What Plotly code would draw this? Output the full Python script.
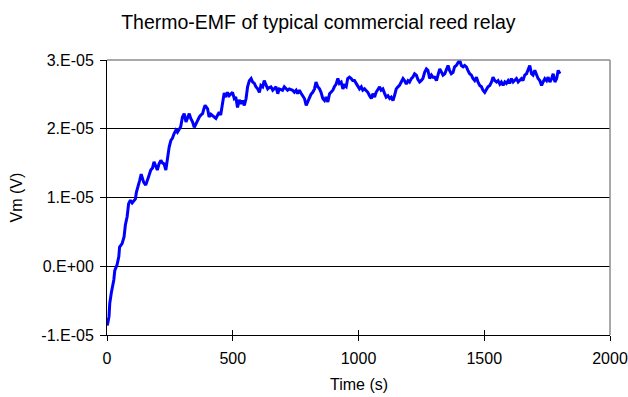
import numpy as np
import plotly.graph_objects as go

# Measurement time (s) and thermo-EMF readings (in units of 1e-5 V)
time_s = [0, 3, 8, 11, 17, 22, 27, 31, 40, 47, 50, 60, 68, 73, 80, 86, 93, 100, 104, 113,
          117, 126, 130, 136, 141, 146, 154, 160, 166, 174, 181, 187, 193, 200, 207, 214, 221,
          227, 234, 240, 247, 254, 260, 267, 274, 280, 287, 293, 300, 307, 314, 320, 327, 333,
          340, 347, 353, 360, 367, 373, 380, 386, 390, 400, 406, 413, 420, 426, 433, 440, 446,
          452, 459, 466, 473, 479, 486, 492, 499, 506, 512, 519, 526, 533, 539, 546, 553, 559,
          566, 573, 579, 586, 592, 599, 606, 612, 619, 625, 632, 639, 645, 652, 659, 665, 672,
          679, 685, 692, 698, 705, 712, 718, 725, 732, 738, 745, 752, 758, 765, 771, 778, 785,
          792, 798, 805, 811, 818, 825, 831, 838, 845, 851, 858, 865, 871, 878, 885, 891, 898,
          904, 911, 918, 924, 931, 938, 944, 951, 957, 964, 971, 977, 984, 991, 997, 1004, 1011,
          1017, 1024, 1031, 1037, 1044, 1051, 1057, 1064, 1070, 1077, 1084, 1090, 1097, 1104,
          1110, 1117, 1124, 1130, 1137, 1143, 1150, 1157, 1163, 1170, 1177, 1183, 1190, 1197,
          1203, 1210, 1216, 1223, 1230, 1236, 1243, 1249, 1256, 1263, 1270, 1276, 1283, 1290,
          1296, 1303, 1310, 1316, 1323, 1329, 1336, 1343, 1349, 1356, 1362, 1369, 1376, 1382,
          1389, 1396, 1402, 1409, 1416, 1422, 1429, 1435, 1442, 1449, 1455, 1462, 1469, 1475,
          1482, 1489, 1495, 1502, 1509, 1515, 1522, 1529, 1535, 1542, 1549, 1555, 1562, 1568,
          1575, 1582, 1588, 1595, 1601, 1608, 1615, 1621, 1628, 1635, 1641, 1648, 1654, 1661,
          1668, 1675, 1681, 1688, 1694, 1701, 1708, 1714, 1721, 1728, 1734, 1741, 1748, 1754,
          1761, 1768, 1774, 1781, 1788, 1794, 1801]

vm_x1e5 = [-0.86, -0.83, -0.73, -0.54, -0.39, -0.30, -0.20, -0.06, 0.02, 0.14, 0.28, 0.33, 0.43,
           0.60, 0.72, 0.91, 0.96, 0.92, 0.94, 0.98, 1.08, 1.18, 1.25, 1.34, 1.27, 1.22, 1.18,
           1.26, 1.31, 1.40, 1.43, 1.52, 1.47, 1.40, 1.49, 1.54, 1.50, 1.49, 1.40, 1.57, 1.73,
           1.83, 1.86, 1.93, 1.98, 1.95, 2.00, 2.03, 2.17, 2.22, 2.10, 2.17, 2.22, 2.15, 2.10,
           2.02, 2.07, 2.12, 2.17, 2.20, 2.22, 2.30, 2.34, 2.29, 2.17, 2.21, 2.19, 2.17, 2.15,
           2.20, 2.24, 2.20, 2.39, 2.52, 2.46, 2.53, 2.48, 2.50, 2.53, 2.44, 2.46, 2.31, 2.42,
           2.36, 2.41, 2.34, 2.44, 2.61, 2.70, 2.73, 2.68, 2.66, 2.61, 2.58, 2.53, 2.63, 2.61,
           2.70, 2.63, 2.58, 2.60, 2.61, 2.56, 2.58, 2.61, 2.51, 2.58, 2.57, 2.56, 2.61, 2.59,
           2.56, 2.58, 2.57, 2.56, 2.53, 2.56, 2.51, 2.56, 2.52, 2.48, 2.44, 2.34, 2.39, 2.44,
           2.50, 2.53, 2.58, 2.68, 2.61, 2.58, 2.53, 2.44, 2.41, 2.46, 2.39, 2.51, 2.54, 2.56,
           2.61, 2.65, 2.73, 2.66, 2.68, 2.58, 2.63, 2.61, 2.73, 2.75, 2.73, 2.70, 2.70, 2.65,
           2.61, 2.58, 2.61, 2.56, 2.58, 2.56, 2.53, 2.48, 2.44, 2.51, 2.46, 2.53, 2.58, 2.61,
           2.56, 2.58, 2.51, 2.46, 2.48, 2.44, 2.46, 2.41, 2.48, 2.58, 2.61, 2.63, 2.68, 2.73,
           2.70, 2.65, 2.70, 2.68, 2.73, 2.75, 2.80, 2.78, 2.72, 2.68, 2.70, 2.73, 2.82, 2.87,
           2.85, 2.73, 2.78, 2.75, 2.75, 2.70, 2.78, 2.87, 2.83, 2.78, 2.80, 2.87, 2.92, 2.85,
           2.80, 2.82, 2.90, 2.92, 2.97, 3.00, 2.92, 2.90, 2.92, 2.90, 2.85, 2.80, 2.78, 2.73,
           2.70, 2.75, 2.68, 2.63, 2.61, 2.56, 2.53, 2.58, 2.61, 2.63, 2.68, 2.75, 2.70, 2.68,
           2.70, 2.65, 2.68, 2.63, 2.68, 2.66, 2.70, 2.66, 2.73, 2.68, 2.70, 2.73, 2.68, 2.70,
           2.73, 2.70, 2.78, 2.80, 2.87, 2.92, 2.80, 2.78, 2.85, 2.78, 2.73, 2.70, 2.63, 2.68,
           2.73, 2.70, 2.75, 2.68, 2.73, 2.80, 2.68, 2.73, 2.85, 2.80]

y_tickvals = [-1e-5, 0.0, 1e-5, 2e-5, 3e-5]
y_ticktext = ["-1.E-05", "0.E+00", "1.E-05", "2.E-05", "3.E-05"]
x_tickvals = [0, 500, 1000, 1500, 2000]

vm = np.array(vm_x1e5) * 1e-5

FONT = "Liberation Sans, Arial, sans-serif"

fig = go.Figure()
fig.add_trace(go.Scatter(
    x=time_s, y=vm, mode="lines",
    line=dict(color="#0000FF", width=3),
    showlegend=False,
))
# invisible companion trace so the overlaid x axis (inner tick marks) is drawn
fig.add_trace(go.Scatter(x=[0], y=[0], xaxis="x2", mode="markers",
                         marker=dict(opacity=0), showlegend=False, hoverinfo="skip"))

fig.update_layout(
    width=628, height=397,
    margin=dict(l=107, r=18, t=60, b=62, autoexpand=False),
    paper_bgcolor="white", plot_bgcolor="white",
    font=dict(family=FONT, size=16, color="black"),
    title=dict(text="Thermo-EMF of typical commercial reed relay",
               x=0.507, xanchor="center", y=0.945, yanchor="middle",
               font=dict(family=FONT, size=19.5, color="black")),
    xaxis=dict(
        range=[0, 2000], tickvals=x_tickvals, ticks="outside", ticklen=5,
        tickcolor="black", showline=True, linecolor="black", linewidth=1,
        showgrid=False, zeroline=False, automargin=False,
        ticklabelstandoff=4, tickfont=dict(size=16),
    ),
    xaxis2=dict(
        range=[0, 2000], tickvals=x_tickvals, ticks="inside", ticklen=5,
        tickcolor="black", overlaying="x", anchor="y", side="bottom",
        showticklabels=False, showgrid=False, zeroline=False, showline=False,
        automargin=False,
    ),
    yaxis=dict(
        range=[-1e-5, 3e-5], tickvals=y_tickvals, ticktext=y_ticktext,
        ticks="outside", ticklen=6, tickcolor="black",
        showline=True, linecolor="black", linewidth=1,
        showgrid=True, gridcolor="black", gridwidth=1, zeroline=False,
        automargin=False, ticklabelstandoff=3, tickfont=dict(size=16),
    ),
    annotations=[
        dict(text="Time (s)", xref="paper", yref="paper", x=0.5, y=0,
             yshift=-49, xanchor="center", yanchor="middle", showarrow=False,
             font=dict(size=16)),
        dict(text="Vm (V)", xref="paper", yref="paper", x=0, y=0.5,
             xshift=-91, xanchor="center", yanchor="middle", textangle=-90,
             showarrow=False, font=dict(size=16)),
    ],
    shapes=[
        # grey frame on the top and right of the plotting area
        dict(type="line", xref="paper", yref="paper", x0=0, x1=1, y0=1, y1=1,
             line=dict(color="#8c8c8c", width=1.5), layer="above"),
        dict(type="line", xref="paper", yref="paper", x0=1, x1=1, y0=0, y1=1,
             line=dict(color="#8c8c8c", width=1.5), layer="above"),
    ],
)

fig.write_html("out.html")
